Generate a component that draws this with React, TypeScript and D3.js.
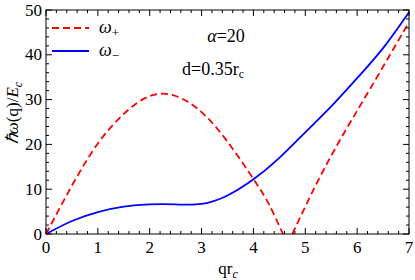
import React from 'react';
import * as d3 from 'd3';

// ω+ branch before the zero (q r_c, ħω/E_c)
const plusLeftQ = [0, 0.5, 1, 1.5, 2, 2.5, 3, 3.5, 4, 4.3, 4.57];
const plusLeftW = [0, 10.8, 20.2, 26.8, 30.8, 30.8, 27.2, 20.6, 12.3, 6.6, 0];
// ω+ branch after the zero
const plusRightQ = [4.75, 5.25, 5.75, 6.25, 7];
const plusRightW = [0, 12.0, 22.6, 32.4, 47.3];
// ω- branch
const minusQ = [0, 0.5, 1, 1.5, 2, 2.5, 3, 3.5, 4, 4.5, 5, 5.5, 6, 6.5, 7];
const minusW = [0, 2.9, 4.9, 6.1, 6.6, 6.6, 6.7, 8.6, 12.2, 17, 22.7, 28.5, 34.8, 41.5, 49.5];

const xTicks = [0, 1, 2, 3, 4, 5, 6, 7];
const yTicks = [0, 10, 20, 30, 40, 50];

const W = 415;
const H = 280;
const left = 46, right = 409, top = 10, bottom = 234;
const font = 'Liberation Serif';

export default function App() {
  const x = d3.scaleLinear().domain([0, 7]).range([left, right]);
  const y = d3.scaleLinear().domain([0, 50]).range([bottom, top]);

  const line = d3.line<[number, number]>()
    .x(d => x(d[0]))
    .y(d => y(d[1]))
    .curve(d3.curveNatural);

  const zip = (a: number[], b: number[]) => a.map((v, i) => [v, b[i]] as [number, number]);

  const xMinor = d3.range(0, 7.001, 0.2).filter(v => Math.abs(v - Math.round(v)) > 1e-6);
  const yMinor = d3.range(0, 50.001, 2).filter(v => v % 10 !== 0);

  return (
    <svg width={W} height={H} style={{ position: 'absolute', left: 0, top: 0 }}>
      <rect width={W} height={H} fill="#fff" />
      <g fill="#000">
        {/* curves */}
        <path d={line(zip(minusQ, minusW)) as string} fill="none" stroke="#0000ff" strokeWidth={1.8} />
        <path d={line(zip(plusLeftQ, plusLeftW)) as string} fill="none" stroke="#ff0000" strokeWidth={1.8} strokeDasharray="7,4" />
        <path d={line(zip(plusRightQ, plusRightW)) as string} fill="none" stroke="#ff0000" strokeWidth={1.8} strokeDasharray="7,4" />

        {/* frame */}
        <rect x={left} y={top} width={right - left} height={bottom - top} fill="none" stroke="#000" strokeWidth={1} />

        {/* ticks */}
        {xTicks.map(t => (
          <g key={'xt' + t}>
            <line x1={x(t)} x2={x(t)} y1={bottom} y2={bottom - 6} stroke="#000" />
            <line x1={x(t)} x2={x(t)} y1={top} y2={top + 6} stroke="#000" />
            <text x={x(t)} y={253} fontSize={17} textAnchor="middle" fontFamily={font}>{t}</text>
          </g>
        ))}
        {xMinor.map(t => (
          <g key={'xm' + t}>
            <line x1={x(t)} x2={x(t)} y1={bottom} y2={bottom - 3} stroke="#000" />
            <line x1={x(t)} x2={x(t)} y1={top} y2={top + 3} stroke="#000" />
          </g>
        ))}
        {yTicks.map(t => (
          <g key={'yt' + t}>
            <line x1={left} x2={left + 6} y1={y(t)} y2={y(t)} stroke="#000" />
            <line x1={right} x2={right - 6} y1={y(t)} y2={y(t)} stroke="#000" />
            <text x={42} y={y(t) + 5.5} fontSize={17} textAnchor="end" fontFamily={font}>{t}</text>
          </g>
        ))}
        {yMinor.map(t => (
          <g key={'ym' + t}>
            <line x1={left} x2={left + 3} y1={y(t)} y2={y(t)} stroke="#000" />
            <line x1={right} x2={right - 3} y1={y(t)} y2={y(t)} stroke="#000" />
          </g>
        ))}

        {/* axis labels */}
        <text x={228} y={274} fontSize={17} textAnchor="middle" fontFamily={font}>
          qr<tspan fontStyle="italic" fontSize={12} dy={4}>c</tspan>
        </text>
        <text transform="translate(18,113) rotate(-90)" fontSize={17} textAnchor="middle" fontFamily={font}>
          <tspan fontStyle="italic">ℏω</tspan>(q)/<tspan fontStyle="italic">E</tspan>
          <tspan fontStyle="italic" fontSize={12} dy={4}>c</tspan>
        </text>

        {/* legend */}
        <line x1={52} x2={89} y1={28} y2={28} stroke="#ff0000" strokeWidth={1.8} strokeDasharray="7,4" />
        <text x={99} y={33} fontSize={18} fontFamily={font}>
          <tspan fontStyle="italic">ω</tspan><tspan fontSize={13} dy={4}>+</tspan>
        </text>
        <line x1={52} x2={89} y1={51} y2={51} stroke="#0000ff" strokeWidth={1.8} />
        <text x={99} y={56} fontSize={18} fontFamily={font}>
          <tspan fontStyle="italic">ω</tspan><tspan fontSize={13} dy={4}>−</tspan>
        </text>

        {/* annotations */}
        <text x={226} y={42} fontSize={18} textAnchor="middle" fontFamily={font}>
          <tspan fontStyle="italic">α</tspan>=20
        </text>
        <text x={213} y={75} fontSize={18} textAnchor="middle" fontFamily={font}>
          d=0.35r<tspan fontSize={12} dy={3}>c</tspan>
        </text>
      </g>
    </svg>
  );
}
